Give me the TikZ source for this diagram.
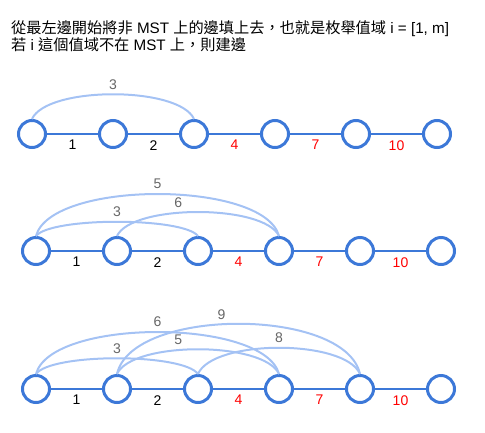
\documentclass[tikz,border=0pt]{standalone}
\usepackage{fontspec}
\setmainfont{Liberation Sans}
\newfontfamily\cjk{Noto Sans CJK TC}
\definecolor{mstblue}{HTML}{3C78D8}
\definecolor{arcblue}{HTML}{A4C2F4}
\definecolor{labgray}{HTML}{666666}
\tikzset{
  vertex/.style={circle, draw=mstblue, line width=3pt, minimum size=27pt, inner sep=0pt},
  mst/.style={draw=mstblue, line width=2.5pt},
  nonmst/.style={draw=arcblue, line width=2pt},
  wlab/.style={below=5pt, inner sep=0pt, font=\fontsize{14}{14}\selectfont},
  arclab/.style={above=4pt, inner sep=0pt, text=labgray, font=\fontsize{14}{14}\selectfont}
}
\begin{document}
\begin{tikzpicture}[x=1pt,y=-1pt]
    \useasboundingbox (0,0) rectangle (485,432);
    % Dòng chữ
    \node[anchor=base west, inner sep=0pt, font=\fontsize{15.2}{15}\selectfont] (t1) at (11,33)
      {{\cjk 從最左邊開始將非} MST {\cjk 上的邊填上去，也就是枚舉值域} i = [1, m]};
    \node[anchor=base west, inner sep=0pt, font=\fontsize{15.2}{15}\selectfont] (t2) at (11,50)
      {{\cjk 若} i {\cjk 這個值域不在} MST {\cjk 上，則建邊}};

    % Hàng thứ nhất
    \foreach \i/\x in {0/32,1/113,2/194,3/275,4/356,5/437}
    \node[vertex] (a\i) at (\x,134) {};
    \foreach \i/\j/\w/\c in {0/1/1/black,1/2/2/black,2/3/4/red,3/4/7/red,4/5/10/red}
    \draw[mst] (a\i) -- (a\j) node[midway, wlab, text=\c] {\w};
    \draw[nonmst] (a0.north) .. controls +(15,-33) and +(-15,-33) .. (a2.north)
      node[pos=0.5, arclab] {3};

    % Hàng thứ hai
    \foreach \i/\x in {0/36,1/117,2/198,3/279,4/360,5/441}
    \node[vertex] (b\i) at (\x,251) {};
    \foreach \i/\j/\w/\c in {0/1/1/black,1/2/2/black,2/3/4/red,3/4/7/red,4/5/10/red}
    \draw[mst] (b\i) -- (b\j) node[midway, wlab, text=\c] {\w};
    \foreach \i/\j/\k/\w/\p in {0/2/19/3/0.5,0/3/56/5/0.5,1/3/32/6/0.41}
    \draw[nonmst] (b\i.north) .. controls +(15,-\k) and +(-15,-\k) .. (b\j.north)
      node[pos=\p, arclab] {\w};

    % Hàng thứ ba
    \foreach \i/\x in {0/36,1/117,2/198,3/279,4/360,5/441}
    \node[vertex] (c\i) at (\x,389) {};
    \foreach \i/\j/\w/\c in {0/1/1/black,1/2/2/black,2/3/4/red,3/4/7/red,4/5/10/red}
    \draw[mst] (c\i) -- (c\j) node[midway, wlab, text=\c] {\w};
    \foreach \i/\j/\k/\w/\p in {0/2/21/3/0.5,0/3/56/6/0.5,1/3/33/5/0.41,1/4/67/9/0.45,2/4/35/8/0.5}
    \draw[nonmst] (c\i.north) .. controls +(15,-\k) and +(-15,-\k) .. (c\j.north)
      node[pos=\p, arclab] {\w};
\end{tikzpicture}
\end{document}
